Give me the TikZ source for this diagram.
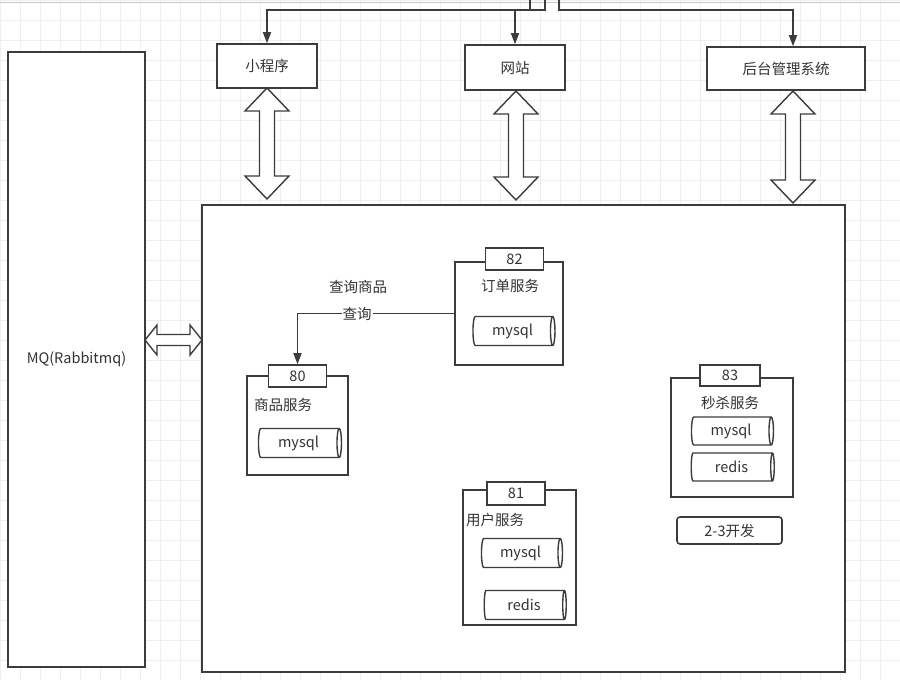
\documentclass[tikz,border=0pt]{standalone}
\usepackage{fontspec}
\setmainfont{Noto Sans CJK SC}
\definecolor{mInk}{HTML}{3C3C3C}
\definecolor{mText}{HTML}{333333}
\definecolor{mGrid}{HTML}{EFEFF2}
\usetikzlibrary{positioning,arrows.meta,calc,shapes.geometric}
% hollow two-headed link: {x}{top y}{bottom y}
\newcommand{\vlink}[3]{%
  \draw[hollow] (#1,#2) -- ++(22,23) -- ++(-14.5,0) -- (#1+7.5,#3-23) -- ++(14.5,0)
    -- (#1,#3) -- ++(-22,-23) -- ++(14.5,0) -- (#1-7.5,#2+23) -- ++(-14.5,0) -- cycle;}

\begin{document}
\begin{tikzpicture}[x=1pt, y=-1pt, font=\fontsize{14.5}{17}\selectfont, text=mText,
  box/.style={draw=mInk, line width=1.6pt, fill=white, inner sep=0pt},
  port/.style={box, minimum width=58pt, minimum height=22pt},
  db/.style={cylinder, draw=mInk, line width=1.4pt, fill=white, shape aspect=0.3,
    minimum height=82pt, minimum width=29pt, inner sep=0pt},
  hollow/.style={draw=mInk, line width=1.4pt, fill=white, line join=miter},
  flow/.style={draw=mInk, line width=1.6pt, -{Triangle[length=11pt,width=8pt]}}]
\useasboundingbox (0,0) rectangle (900,680);
\fill[white] (0,0) rectangle (900,680);
% faint grid
\foreach \gx in {0,20,...,900} \draw[mGrid, line width=0.6pt] (\gx,0) -- (\gx,680);
\foreach \gy in {0,20,...,680} \draw[mGrid, line width=0.6pt] (0,\gy) -- (900,\gy);
\draw[gray!45, line width=1pt] (0,2) -- (900,2);

% clients
\node[box, minimum width=137pt, minimum height=615pt] (mq) at (76.5,359.5) {MQ(Rabbitmq)};
\node[box, minimum width=100pt, minimum height=44pt] (xcx) at (267,66) {小程序};
\node[box, minimum width=100pt, minimum height=45pt] (web) at (515,67.5) {网站};
\node[box, minimum width=158pt, minimum height=43pt] (admin) at (786,68.5) {后台管理系统};
\node[box, minimum width=643pt, minimum height=467pt] (main) at (523.5,438.5) {};

% feeds from above
\coordinate (srcA) at (530,0);
\coordinate (srcB) at (545,0);
\coordinate (srcC) at (559,0);
\draw[flow] (srcA) -- ++(0,10) -| (xcx.north);
\draw[flow] (srcB) -- ++(0,10) -| (web.north);
\draw[flow] (srcC) -- ++(0,10) -| ([xshift=7pt]admin.north);

% hollow links
\vlink{267}{88}{199}
\vlink{516}{91}{200}
\vlink{793}{91}{203}
\draw[hollow] (145,340) -- (157,325) -- (157,334.5) -- (190,334.5) -- (190,325) -- (202,340)
  -- (190,355) -- (190,345.5) -- (157,345.5) -- (157,355) -- cycle;

% order service
\node[box, minimum width=108pt, minimum height=103pt] (order) at (509,313.5) {};
\node[port] (orderport) at (514.5,259) {82};
\node (ordername) at (510,286) {订单服务};
\node[db] (orderdb) at (512.5,331) {mysql};

% goods service
\node[box, minimum width=101pt, minimum height=99pt] (goods) at (297.5,425.5) {};
\node[port] (goodsport) at (297.5,376) {80};
\node (goodsname) at (283,405) {商品服务};
\node[db, minimum height=83pt] (goodsdb) at (298.5,443) {mysql};

% user service
\node[box, minimum width=113pt, minimum height=135pt] (user) at (519.5,557.5) {};
\node[port, minimum height=23pt] (userport) at (516,493.5) {81};
\node (username) at (495,520) {用户服务};
\node[db, minimum height=81pt] (userdb) at (520.5,553) {mysql};
\node[db] (userredis) at (524,605) {redis};

% seckill service
\node[box, minimum width=122pt, minimum height=119pt] (seckill) at (732,437.5) {};
\node[port, minimum width=60pt, minimum height=21pt] (seckillport) at (730,375.5) {83};
\node (seckillname) at (730,403) {秒杀服务};
\node[db, minimum width=28pt] (seckilldb) at (731,431) {mysql};
\node[db, minimum width=28pt, minimum height=83pt] (seckillredis) at (731.5,467) {redis};
\node[box, rounded corners=3pt, minimum width=105pt, minimum height=27pt] (dev) at (729.5,530.5) {2-3开发};

% query
\draw[flow] (order.west) -| node[pos=0.31, fill=white, inner sep=1pt] (querylbl) {查询} (goodsport.north);
\node (querytitle) at (358,287) {查询商品};
\end{tikzpicture}
\end{document}
